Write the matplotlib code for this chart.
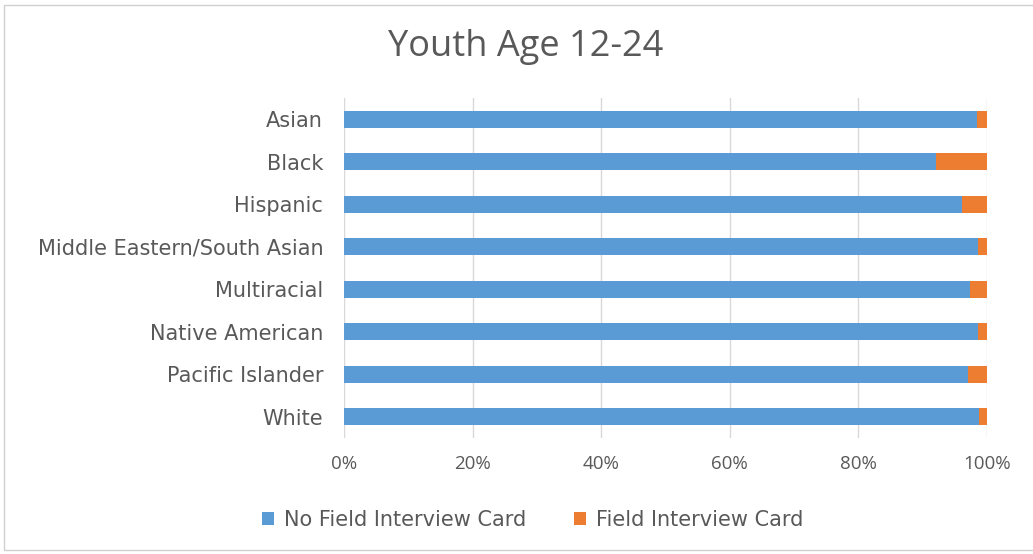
import matplotlib.pyplot as plt
from matplotlib.patches import Rectangle
from matplotlib.ticker import FuncFormatter

groups = ["Asian", "Black", "Hispanic", "Middle Eastern/South Asian",
          "Multiracial", "Native American", "Pacific Islander", "White"]
no_card = [98.4, 92.0, 96.1, 98.6, 97.4, 98.6, 97.0, 98.7]
card = [100 - v for v in no_card]

BLUE = "#5B9BD5"
ORANGE = "#ED7D31"
TEXT = "#595959"
GRID = "#D9D9D9"

plt.rcParams['font.family'] = ['DejaVu Sans']

fig = plt.figure(figsize=(10.33, 5.54), dpi=100)
ax = fig.add_axes([344 / 1033, 1 - 438 / 554, 643 / 1033, 340 / 554])

y = list(range(len(groups)))
ax.barh(y, no_card, height=0.4, color=BLUE, label="No Field Interview Card")
ax.barh(y, card, left=no_card, height=0.4, color=ORANGE, label="Field Interview Card")

ax.set_xlim(0, 100)
ax.set_ylim(len(groups) - 0.5, -0.5)
ax.set_yticks(y)
ax.set_yticklabels(groups, fontsize=15)
ax.set_xticks(range(0, 101, 20))
ax.xaxis.set_major_formatter(FuncFormatter(lambda v, p: f"{v:.0f}%"))
for lbl in ax.get_xticklabels():
    lbl.set_family(['Open Sans', 'DejaVu Sans'])
    lbl.set_fontsize(13.5)
ax.tick_params(length=0, colors=TEXT)
ax.tick_params(axis='y', pad=15)
ax.tick_params(axis='x', pad=12)
ax.grid(axis='x', color=GRID, linewidth=1)
ax.set_axisbelow(True)
for s in ax.spines.values():
    s.set_visible(False)

fig.text(526 / 1033, 1 - 47 / 554, "Youth Age 12-24", ha='center', va='center',
         fontsize=26, color=TEXT, family=['Open Sans', 'DejaVu Sans'])

fig.legend(loc='center', bbox_to_anchor=(533 / 1033, 1 - 520 / 554), ncol=2,
           frameon=False, fontsize=15, labelcolor=TEXT, handlelength=0.55,
           handleheight=0.55, handletextpad=0.5, columnspacing=2.3)

# thin frame around the chart area
fig.patches.append(Rectangle((4 / 1033, 1 - 550 / 554), 1040 / 1033, 545 / 554,
                             transform=fig.transFigure, fill=False,
                             edgecolor="#D0D0D0", linewidth=1))

fig.savefig("out.png", dpi=100, facecolor="white")
